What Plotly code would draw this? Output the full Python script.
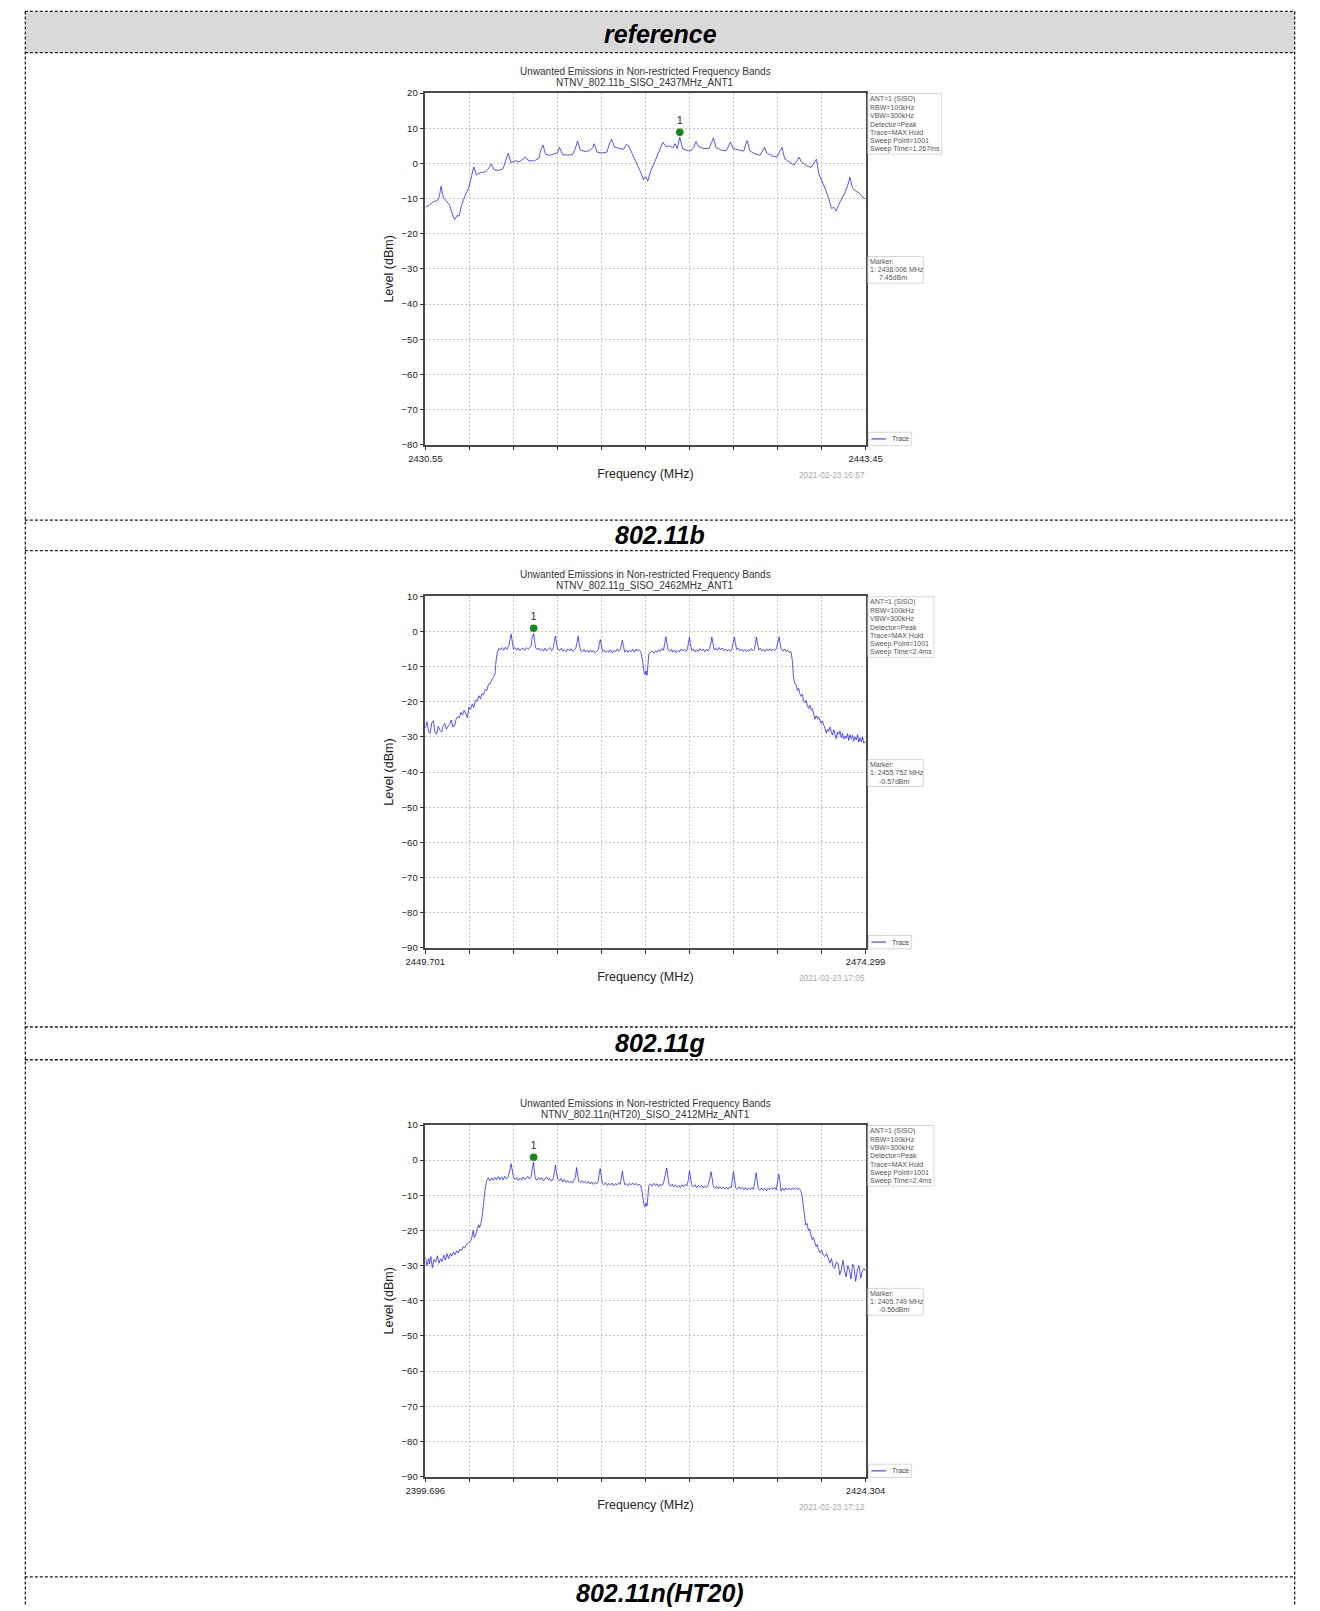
import plotly.graph_objects as go

# ---------------- DATA ----------------
header_text = "reference"
chart_title = "Unwanted Emissions in Non-restricted Frequency Bands"
chart_subtitles = ["NTNV_802.11b_SISO_2437MHz_ANT1",
                   "NTNV_802.11g_SISO_2462MHz_ANT1",
                   "NTNV_802.11n(HT20)_SISO_2412MHz_ANT1"]
captions = ["802.11b", "802.11g", "802.11n(HT20)"]
x_starts = [2430.55, 2449.701, 2399.696]
x_stops = [2443.45, 2474.299, 2424.304]
x_start_labels = ["2430.55", "2449.701", "2399.696"]
x_stop_labels = ["2443.45", "2474.299", "2424.304"]
y_mins = [-80, -90, -90]
y_maxs = [20, 10, 10]
setup_lines = ["ANT=1 (SISO)", "RBW=100kHz", "VBW=300kHz", "Detector=Peak",
               "Trace=MAX Hold", "Sweep Point=1001"]
sweep_times = ["1.267ms", "2.4ms", "2.4ms"]
marker_freqs = [2438.006, 2455.752, 2405.749]
marker_levels = [7.45, -0.57, -0.56]
marker_dot_levels = [8.9, 0.9, 0.8]
timestamps = ["2021-02-23 16:57", "2021-02-23 17:05", "2021-02-23 17:12"]
x_title = "Frequency (MHz)"
y_title = "Level (dBm)"
trace_name = "Trace"

# chart 1: 802.11b
f1 = [2430.55, 2430.67, 2430.78, 2430.90, 2430.96, 2431.01, 2431.08, 2431.16, 2431.26, 2431.36,
      2431.41, 2431.48, 2431.54, 2431.61, 2431.72, 2431.82, 2431.90, 2431.97, 2432.05, 2432.17,
      2432.32, 2432.40, 2432.48, 2432.56, 2432.70, 2432.83, 2432.91, 2432.98, 2433.06, 2433.19,
      2433.29, 2433.42, 2433.49, 2433.57, 2433.74, 2433.88, 2433.94, 2434.00, 2434.07, 2434.20,
      2434.30, 2434.42, 2434.48, 2434.57, 2434.71, 2434.86, 2434.94, 2435.01, 2435.09, 2435.22,
      2435.37, 2435.45, 2435.50, 2435.58, 2435.72, 2435.87, 2435.94, 2436.01, 2436.09, 2436.23,
      2436.36, 2436.44, 2436.51, 2436.61, 2436.74, 2436.86, 2436.94, 2437.00, 2437.07, 2437.14,
      2437.26, 2437.36, 2437.45, 2437.51, 2437.60, 2437.71, 2437.80, 2437.87, 2437.93, 2437.97,
      2438.006, 2438.09, 2438.18, 2438.31, 2438.41, 2438.48, 2438.56, 2438.71, 2438.86, 2438.94,
      2438.99, 2439.07, 2439.22, 2439.37, 2439.44, 2439.49, 2439.57, 2439.72, 2439.88, 2439.94,
      2439.98, 2440.06, 2440.18, 2440.36, 2440.43, 2440.49, 2440.55, 2440.69, 2440.85, 2440.95,
      2441.00, 2441.08, 2441.20, 2441.35, 2441.45, 2441.50, 2441.57, 2441.70, 2441.85, 2441.96,
      2442.01, 2442.08, 2442.18, 2442.26, 2442.37, 2442.45, 2442.52, 2442.59, 2442.70, 2442.82,
      2442.92, 2442.99, 2443.06, 2443.15, 2443.27, 2443.38, 2443.45]
l1 = [-12.5, -11.8, -10.9, -10.6, -9.5, -6.5, -9.8, -10.6, -11.8, -15.0,
      -16.0, -14.8, -15.0, -12.0, -9.0, -7.0, -4.0, -1.0, -3.2, -2.6,
      -2.4, -1.5, -0.1, -1.8, -2.0, -1.5, 1.0, 2.9, 0.2, 0.8,
      0.4, 1.2, 1.8, 0.8, 0.7, 1.5, 4.0, 5.2, 2.6, 2.3,
      2.6, 3.0, 4.6, 2.5, 2.4, 2.5, 4.0, 6.4, 3.8, 3.4,
      3.6, 4.5, 5.6, 3.2, 3.0, 3.2, 5.5, 6.9, 4.6, 4.4,
      4.0, 5.4, 5.0, 2.8, 0.2, -2.5, -4.6, -3.8, -5.0, -2.5,
      0.2, 2.6, 4.5, 6.0, 4.8, 5.0, 4.4, 5.6, 4.2, 6.0,
      7.45, 4.2, 3.8, 3.5, 4.5, 6.2, 4.8, 4.2, 4.3, 6.0,
      7.2, 4.5, 3.8, 3.6, 5.0, 6.1, 4.2, 3.8, 3.5, 5.5,
      6.5, 3.6, 2.8, 2.3, 3.5, 4.6, 3.0, 2.2, 1.8, 3.5,
      4.6, 1.3, 0.4, -0.5, 0.8, 1.8, 0.4, -0.5, -1.2, 0.5,
      1.2, -3.0, -5.0, -7.0, -10.0, -12.8, -12.5, -13.5, -11.0, -8.8,
      -6.5, -3.9, -6.8, -7.8, -8.5, -9.8, -10.0]

# chart 2: 802.11g
f2 = [2449.70, 2449.79, 2449.88, 2449.97, 2450.06, 2450.15, 2450.24, 2450.33, 2450.42, 2450.52,
      2450.61, 2450.70, 2450.79, 2450.88, 2450.97, 2451.06, 2451.15, 2451.24, 2451.33, 2451.42,
      2451.51, 2451.60, 2451.69, 2451.78, 2451.87, 2451.96, 2452.05, 2452.14, 2452.23, 2452.32,
      2452.41, 2452.51, 2452.60, 2452.69, 2452.78, 2452.87, 2452.96, 2453.05, 2453.14, 2453.23,
      2453.32, 2453.41, 2453.50, 2453.59, 2453.64, 2453.72, 2453.81, 2453.90, 2453.99, 2454.08,
      2454.17, 2454.26, 2454.37, 2454.44, 2454.49, 2454.55, 2454.62, 2454.71, 2454.80, 2454.89,
      2454.98, 2455.07, 2455.16, 2455.25, 2455.34, 2455.43, 2455.52, 2455.61, 2455.66, 2455.752,
      2455.80, 2455.86, 2455.95, 2456.03, 2456.12, 2456.21, 2456.31, 2456.39, 2456.48, 2456.57,
      2456.66, 2456.75, 2456.84, 2456.91, 2456.97, 2457.02, 2457.09, 2457.21, 2457.30, 2457.39,
      2457.48, 2457.57, 2457.66, 2457.75, 2457.84, 2457.93, 2458.02, 2458.11, 2458.19, 2458.24,
      2458.29, 2458.37, 2458.47, 2458.56, 2458.65, 2458.74, 2458.83, 2458.92, 2459.01, 2459.10,
      2459.19, 2459.28, 2459.37, 2459.42, 2459.48, 2459.53, 2459.61, 2459.70, 2459.79, 2459.88,
      2459.97, 2460.06, 2460.15, 2460.24, 2460.33, 2460.42, 2460.51, 2460.60, 2460.66, 2460.71,
      2460.77, 2460.84, 2460.93, 2461.02, 2461.11, 2461.20, 2461.29, 2461.38, 2461.47, 2461.56,
      2461.65, 2461.74, 2461.81, 2461.87, 2461.93, 2461.98, 2462.03, 2462.09, 2462.14, 2462.19,
      2462.28, 2462.38, 2462.47, 2462.56, 2462.65, 2462.74, 2462.83, 2462.92, 2463.01, 2463.08,
      2463.14, 2463.19, 2463.27, 2463.36, 2463.45, 2463.54, 2463.63, 2463.72, 2463.81, 2463.90,
      2463.99, 2464.08, 2464.17, 2464.26, 2464.35, 2464.40, 2464.46, 2464.51, 2464.59, 2464.68,
      2464.77, 2464.86, 2464.95, 2465.04, 2465.13, 2465.22, 2465.31, 2465.40, 2465.49, 2465.58,
      2465.66, 2465.71, 2465.76, 2465.84, 2465.93, 2466.02, 2466.11, 2466.20, 2466.29, 2466.38,
      2466.47, 2466.56, 2466.65, 2466.74, 2466.83, 2466.92, 2466.97, 2467.02, 2467.10, 2467.19,
      2467.28, 2467.37, 2467.46, 2467.55, 2467.64, 2467.73, 2467.82, 2467.91, 2468.00, 2468.09,
      2468.15, 2468.20, 2468.26, 2468.33, 2468.42, 2468.51, 2468.60, 2468.69, 2468.78, 2468.87,
      2468.96, 2469.05, 2469.14, 2469.23, 2469.32, 2469.41, 2469.47, 2469.52, 2469.59, 2469.68,
      2469.77, 2469.86, 2469.95, 2470.04, 2470.13, 2470.20, 2470.27, 2470.34, 2470.42, 2470.49,
      2470.56, 2470.63, 2470.70, 2470.77, 2470.84, 2470.91, 2470.98, 2471.05, 2471.12, 2471.19,
      2471.26, 2471.33, 2471.40, 2471.47, 2471.54, 2471.61, 2471.68, 2471.75, 2471.82, 2471.89,
      2471.96, 2472.03, 2472.10, 2472.17, 2472.24, 2472.31, 2472.38, 2472.45, 2472.52, 2472.59,
      2472.66, 2472.73, 2472.80, 2472.87, 2472.94, 2473.01, 2473.08, 2473.15, 2473.22, 2473.29,
      2473.36, 2473.43, 2473.50, 2473.57, 2473.64, 2473.71, 2473.78, 2473.85, 2473.92, 2473.99,
      2474.06, 2474.13, 2474.20, 2474.30]
l2 = [-27.5, -25.7, -28.5, -29.0, -26.0, -25.4, -28.8, -29.2, -27.0, -28.2,
      -28.6, -26.8, -26.2, -27.8, -27.0, -26.4, -25.2, -27.2, -26.9, -25.0,
      -24.2, -24.6, -23.0, -23.8, -22.4, -23.6, -24.5, -21.5, -22.2, -20.6,
      -21.6, -19.6, -19.8, -18.3, -19.2, -17.7, -18.0, -16.4, -16.8, -15.0,
      -14.9, -13.8, -13.2, -12.3, -9.0, -6.0, -4.8, -5.2, -4.6, -5.4,
      -4.5, -5.1, -4.0, -1.5, -0.8, -2.5, -5.0, -4.6, -5.3, -4.7,
      -5.5, -5.0, -4.8, -5.4, -4.6, -5.1, -4.5, -4.2, -2.0, -0.57,
      -2.5, -4.6, -5.2, -4.7, -5.4, -5.0, -5.6, -4.8, -5.5, -5.1,
      -4.6, -5.5, -4.9, -2.8, -1.3, -3.0, -5.0, -5.4, -4.8, -5.6,
      -5.2, -5.8, -5.0, -5.5, -4.9, -5.7, -5.2, -4.8, -2.9, -1.4,
      -3.2, -5.4, -5.8, -5.1, -5.9, -5.4, -6.0, -5.3, -5.9, -5.5,
      -6.1, -5.6, -5.2, -3.5, -2.3, -3.8, -5.8, -5.3, -6.0, -5.5,
      -5.9, -5.2, -6.1, -5.4, -5.8, -5.0, -5.7, -5.2, -3.8, -2.5,
      -4.0, -5.9, -5.3, -6.0, -5.4, -5.8, -5.1, -5.9, -5.0, -5.6,
      -5.2, -5.8, -7.5, -10.5, -11.8, -12.3, -11.2, -12.5, -9.0, -6.4,
      -6.0, -5.6, -6.2, -5.5, -5.9, -5.2, -5.7, -4.9, -5.4, -3.5,
      -1.5, -3.2, -5.3, -5.7, -5.1, -5.9, -5.3, -6.0, -5.4, -5.8,
      -5.0, -5.6, -5.1, -5.7, -5.0, -3.3, -1.7, -3.5, -5.5, -5.0,
      -5.8, -5.2, -5.7, -4.9, -5.5, -5.0, -5.8, -5.1, -5.6, -4.9,
      -3.4, -1.6, -3.4, -5.3, -4.8, -5.4, -4.6, -5.2, -4.7, -5.5,
      -5.0, -5.6, -5.1, -5.7, -5.0, -3.2, -1.6, -3.3, -5.2, -4.8,
      -5.5, -5.0, -5.7, -5.1, -5.8, -5.2, -5.6, -4.9, -5.5, -5.0,
      -3.4, -1.6, -3.5, -5.3, -4.8, -5.6, -5.1, -5.7, -5.0, -5.5,
      -4.9, -5.6, -5.0, -5.4, -4.8, -3.0, -1.6, -3.4, -5.2, -5.6,
      -5.0, -5.8, -5.3, -6.0, -5.8, -8.0, -13.0, -14.8, -15.2, -16.8,
      -16.2, -17.8, -18.5, -17.9, -19.9, -20.3, -19.6, -21.2, -21.9, -21.0,
      -22.4, -22.0, -23.5, -25.0, -24.0, -24.8, -24.3, -25.6, -26.2, -25.5,
      -27.0, -27.6, -28.9, -27.8, -28.4, -27.2, -28.6, -29.5, -28.0, -29.6,
      -30.5, -28.6, -29.3, -28.3, -30.2, -29.0, -30.6, -29.8, -30.4, -29.1,
      -31.0, -29.4, -30.5, -29.6, -31.2, -30.0, -30.8, -29.4, -31.5, -30.2,
      -31.4, -30.0, -31.8, -31.2]

# chart 3: 802.11n(HT20)
f3 = [2399.70, 2399.79, 2399.88, 2399.93, 2400.00, 2400.09, 2400.18, 2400.27, 2400.37, 2400.46,
      2400.55, 2400.64, 2400.73, 2400.82, 2400.91, 2401.00, 2401.09, 2401.18, 2401.27, 2401.36,
      2401.45, 2401.54, 2401.63, 2401.72, 2401.81, 2401.90, 2401.99, 2402.08, 2402.17, 2402.27,
      2402.32, 2402.37, 2402.43, 2402.50, 2402.59, 2402.68, 2402.73, 2402.83, 2402.90, 2402.97,
      2403.04, 2403.13, 2403.22, 2403.31, 2403.41, 2403.50, 2403.59, 2403.68, 2403.77, 2403.86,
      2403.95, 2404.04, 2404.13, 2404.22, 2404.31, 2404.38, 2404.44, 2404.49, 2404.55, 2404.62,
      2404.71, 2404.80, 2404.89, 2404.98, 2405.07, 2405.16, 2405.25, 2405.34, 2405.43, 2405.52,
      2405.61, 2405.67, 2405.749, 2405.78, 2405.85, 2405.94, 2406.03, 2406.12, 2406.21, 2406.30,
      2406.39, 2406.48, 2406.57, 2406.66, 2406.75, 2406.84, 2406.92, 2406.97, 2407.02, 2407.10,
      2407.19, 2407.28, 2407.37, 2407.46, 2407.55, 2407.64, 2407.73, 2407.82, 2407.91, 2408.00,
      2408.09, 2408.15, 2408.20, 2408.27, 2408.36, 2408.45, 2408.54, 2408.64, 2408.73, 2408.82,
      2408.91, 2409.00, 2409.09, 2409.18, 2409.27, 2409.36, 2409.41, 2409.47, 2409.52, 2409.59,
      2409.68, 2409.77, 2409.87, 2409.96, 2410.05, 2410.14, 2410.23, 2410.32, 2410.41, 2410.50,
      2410.59, 2410.66, 2410.71, 2410.77, 2410.84, 2410.93, 2411.02, 2411.11, 2411.20, 2411.29,
      2411.38, 2411.47, 2411.56, 2411.65, 2411.74, 2411.81, 2411.87, 2411.92, 2411.98, 2412.03,
      2412.09, 2412.14, 2412.19, 2412.28, 2412.38, 2412.47, 2412.56, 2412.65, 2412.74, 2412.83,
      2412.92, 2413.01, 2413.08, 2413.14, 2413.19, 2413.25, 2413.32, 2413.41, 2413.50, 2413.59,
      2413.68, 2413.77, 2413.86, 2413.95, 2414.04, 2414.13, 2414.22, 2414.31, 2414.40, 2414.46,
      2414.51, 2414.59, 2414.68, 2414.77, 2414.86, 2414.95, 2415.04, 2415.13, 2415.22, 2415.31,
      2415.40, 2415.49, 2415.56, 2415.62, 2415.67, 2415.72, 2415.80, 2415.89, 2415.98, 2416.07,
      2416.16, 2416.25, 2416.34, 2416.43, 2416.52, 2416.61, 2416.70, 2416.79, 2416.86, 2416.92,
      2416.97, 2417.04, 2417.13, 2417.22, 2417.31, 2417.40, 2417.50, 2417.59, 2417.68, 2417.77,
      2417.86, 2417.95, 2418.04, 2418.13, 2418.19, 2418.24, 2418.31, 2418.40, 2418.48, 2418.58,
      2418.67, 2418.77, 2418.86, 2418.94, 2419.03, 2419.13, 2419.22, 2419.31, 2419.40, 2419.45,
      2419.51, 2419.58, 2419.67, 2419.76, 2419.85, 2419.94, 2420.03, 2420.12, 2420.21, 2420.30,
      2420.39, 2420.49, 2420.58, 2420.67, 2420.75, 2420.82, 2420.89, 2420.96, 2421.03, 2421.11,
      2421.18, 2421.25, 2421.32, 2421.39, 2421.46, 2421.53, 2421.60, 2421.67, 2421.76, 2421.85,
      2421.94, 2422.03, 2422.13, 2422.22, 2422.31, 2422.40, 2422.49, 2422.58, 2422.67, 2422.77,
      2422.86, 2422.95, 2423.04, 2423.13, 2423.22, 2423.31, 2423.40, 2423.49, 2423.58, 2423.66,
      2423.75, 2423.85, 2423.94, 2424.03, 2424.12, 2424.21, 2424.30]
l3 = [-27.6, -30.0, -28.0, -29.5, -27.4, -30.6, -28.2, -29.0, -27.2, -29.3,
      -28.1, -28.8, -27.0, -28.4, -26.6, -28.0, -26.5, -27.3, -26.1, -26.9,
      -25.8, -26.4, -25.3, -25.8, -24.6, -25.0, -24.0, -23.8, -23.4, -22.6,
      -20.5, -20.0, -22.0, -21.5, -19.6, -18.4, -19.2, -17.5, -14.8, -11.5,
      -8.0, -5.8, -5.0, -5.9, -5.1, -5.7, -4.9, -5.6, -4.7, -5.5,
      -4.8, -5.6, -4.6, -5.4, -4.9, -3.8, -1.8, -1.0, -2.8, -4.8,
      -5.5, -4.9, -5.8, -5.1, -5.6, -4.8, -5.5, -5.0, -4.6, -5.4,
      -4.7, -2.6, -0.56, -2.8, -5.3, -5.7, -4.9, -5.6, -5.0, -5.8,
      -5.2, -4.8, -5.6, -5.2, -6.0, -5.3, -3.2, -1.4, -3.4, -5.4,
      -5.9, -5.2, -6.2, -5.5, -6.3, -5.8, -6.4, -5.9, -6.5, -5.8,
      -4.8, -2.1, -3.8, -6.0, -6.4, -5.8, -6.5, -6.0, -6.6, -6.1,
      -6.8, -6.2, -6.9, -6.3, -6.7, -6.0, -4.0, -2.4, -4.2, -6.6,
      -7.0, -6.4, -7.2, -6.6, -7.1, -6.5, -7.3, -6.7, -7.0, -6.4,
      -6.9, -5.0, -3.1, -5.2, -7.0, -6.7, -7.3, -6.6, -7.0, -6.5,
      -7.1, -6.6, -7.2, -6.8, -7.3, -9.0, -11.5, -12.8, -13.3, -12.2,
      -13.0, -10.0, -7.2, -6.8, -7.4, -6.6, -7.2, -6.7, -7.5, -6.8,
      -7.3, -6.5, -5.0, -3.0, -2.2, -4.5, -7.0, -7.4, -6.8, -7.6,
      -7.0, -7.7, -7.2, -7.8, -7.0, -7.5, -6.9, -7.4, -5.6, -3.0,
      -4.8, -7.2, -7.6, -7.0, -7.8, -7.2, -7.7, -7.1, -7.9, -7.3,
      -7.8, -7.2, -6.0, -4.6, -3.3, -5.0, -7.6, -8.0, -7.4, -8.2,
      -7.5, -8.1, -7.6, -8.2, -7.7, -8.3, -7.6, -7.9, -5.8, -3.3,
      -5.0, -7.9, -8.3, -7.6, -8.2, -7.7, -8.4, -7.8, -8.5, -7.9,
      -8.4, -7.8, -8.3, -6.0, -3.6, -5.5, -8.1, -8.5, -7.9, -8.6,
      -8.0, -8.7, -7.9, -8.4, -7.8, -8.3, -7.7, -8.5, -6.2, -4.0,
      -5.8, -8.8, -8.0, -8.6, -7.9, -8.4, -8.0, -8.5, -7.9, -8.3,
      -7.8, -8.4, -8.0, -8.6, -10.0, -13.5, -17.0, -18.5, -18.0, -20.0,
      -19.6, -21.5, -22.6, -22.0, -23.8, -24.5, -24.0, -25.5, -26.3, -25.6,
      -27.0, -27.4, -26.6, -28.2, -29.3, -28.0, -30.4, -30.8, -29.0, -29.4,
      -32.6, -31.0, -28.5, -31.5, -33.2, -30.0, -31.2, -33.8, -29.6, -30.5,
      -34.5, -31.0, -30.0, -33.6, -31.5, -30.8, -31.6]

freqs = [f1, f2, f3]
levels = [l1, l2, l3]

# ---------------- LAYOUT (pixel geometry) ----------------
W, H = 1320, 1611
FONT = "Liberation Sans, Arial, sans-serif"


def px(x):
    return x / W


def py(y):
    return 1 - y / H


PLOT_L, PLOT_R = 418, 872
PLOT_H = 354
PLOT_TOPS = [87.7, 594.3, 1126.7]
CAPTION_Y = [533, 1044.5, 1598]
ROW_LINES = [5.5, 47, 517.7, 548.3, 1028, 1061, 1581.7]
BOX_X = 874.5
INFO_W = [76, 68, 68]
TRACE_COLOR = "rgba(20,20,255,0.72)"
BOX_LINE = dict(color="#d6d6d6", width=1)
GRID = dict(showgrid=True, gridcolor="#c4c4c4", griddash="2px,2px", gridwidth=0.8)
AX_LINE = dict(showline=True, mirror=True, linecolor="#4a4a4a", linewidth=1.5, zeroline=False)

fig = go.Figure()
layout = dict(
    width=W, height=H, margin=dict(l=0, r=0, t=0, b=0),
    paper_bgcolor="white", plot_bgcolor="white",
    font=dict(family=FONT, color="#222"),
    showlegend=False,
)
annotations = []
shapes = []


def text_ann(text, x, y, size, color, xanchor="left", yanchor="middle"):
    return dict(text=text, x=px(x), y=py(y), xref="paper", yref="paper",
                xanchor=xanchor, yanchor=yanchor, showarrow=False, borderpad=0,
                font=dict(size=size, color=color, family=FONT))


def box(x0, x1, y0, y1):
    return dict(type="rect", xref="paper", yref="paper", x0=px(x0), x1=px(x1),
                y0=py(y1), y1=py(y0), fillcolor="white", line=BOX_LINE, layer="above")


for i in range(3):
    n = "" if i == 0 else str(i + 1)
    top = PLOT_TOPS[i]
    bottom = top + PLOT_H
    xs, xe = x_starts[i], x_stops[i]
    ticks = [xs + k * (xe - xs) / 10 for k in range(11)]
    ticktext = [x_start_labels[i]] + [""] * 9 + [x_stop_labels[i]]

    fig.add_trace(go.Scatter(
        x=freqs[i], y=levels[i], mode="lines", name=trace_name,
        line=dict(color=TRACE_COLOR, width=1),
        xaxis="x" + n, yaxis="y" + n, hoverinfo="skip"))
    fig.add_trace(go.Scatter(
        x=[marker_freqs[i]], y=[marker_dot_levels[i]], mode="markers+text",
        text=["1"], textposition="top center",
        textfont=dict(size=11, color="#333", family=FONT),
        marker=dict(color="#138a13", size=7.5),
        xaxis="x" + n, yaxis="y" + n, cliponaxis=False, hoverinfo="skip"))

    layout["xaxis" + n] = dict(
        domain=[px(PLOT_L), px(PLOT_R)], range=[xs, xe], anchor="y" + n,
        tickmode="array", tickvals=ticks, ticktext=ticktext,
        ticks="outside", ticklen=4, tickwidth=1, tickcolor="#333",
        tickfont=dict(size=9.5, color="#222", family=FONT),
        title=dict(text=x_title, font=dict(size=12.5, color="#222", family=FONT), standoff=6),
        fixedrange=True, **GRID, **AX_LINE)
    layout["yaxis" + n] = dict(
        domain=[py(bottom), py(top)], range=[y_mins[i], y_maxs[i]], anchor="x" + n,
        tick0=0, dtick=10, ticks="outside", ticklen=4, tickwidth=1, tickcolor="#333",
        tickfont=dict(size=9.5, color="#222", family=FONT),
        title=dict(text=y_title, font=dict(size=12.5, color="#222", family=FONT), standoff=5),
        fixedrange=True, **GRID, **AX_LINE)

    cx = (PLOT_L + PLOT_R) / 2
    annotations.append(text_ann(chart_title, cx, top - 21.5, 10, "#333", "center"))
    annotations.append(text_ann(chart_subtitles[i], cx, top - 10.8, 10, "#333", "center"))

    # instrument settings box
    info = setup_lines + ["Sweep Time=" + sweep_times[i]]
    shapes.append(box(BOX_X, BOX_X + INFO_W[i], top + 0.5, top + 61.5))
    for k, line in enumerate(info):
        annotations.append(text_ann(line, BOX_X + 1.5, top + 5.8 + k * 8.45, 7.0, "#555"))

    # marker readout box
    mtop = top + 164.5
    shapes.append(box(BOX_X, BOX_X + 57, mtop, mtop + 27))
    annotations.append(text_ann("Marker:", BOX_X + 1.5, mtop + 5, 7.0, "#555"))
    annotations.append(text_ann("1: %.3f MHz" % marker_freqs[i], BOX_X + 1.5, mtop + 13.3, 7.0, "#555"))
    annotations.append(text_ann("%.2fdBm" % marker_levels[i], BOX_X + 10, mtop + 21.6, 7.0, "#555"))

    # legend box
    shapes.append(box(BOX_X + 0.5, BOX_X + 45, bottom - 12.5, bottom + 1))
    shapes.append(dict(type="line", xref="paper", yref="paper",
                       x0=px(BOX_X + 3.5), x1=px(BOX_X + 18.5),
                       y0=py(bottom - 5.8), y1=py(bottom - 5.8),
                       line=dict(color=TRACE_COLOR, width=1.3), layer="above"))
    annotations.append(text_ann(trace_name, BOX_X + 24, bottom - 5.8, 6.8, "#444"))

    # timestamp and caption
    annotations.append(text_ann(timestamps[i], PLOT_R, top + 384.5, 8.3, "#aaa", "right"))
    annotations.append(text_ann("<b><i>%s</i></b>" % captions[i], W / 2, CAPTION_Y[i], 25, "#000", "center"))

# header band
shapes.append(dict(type="rect", xref="paper", yref="paper", x0=px(6), x1=px(1314),
                   y0=py(47), y1=py(6), fillcolor="#d9d9d9", line=dict(width=0), layer="below"))
annotations.append(text_ann("<b><i>%s</i></b>" % header_text, W / 2, 28, 25, "#000", "center"))
# table borders
BORDER = dict(color="#1a1a1a", width=1.3, dash="3px,2px")
for yl in ROW_LINES:
    shapes.append(dict(type="line", xref="paper", yref="paper", x0=px(5), x1=px(1315),
                       y0=py(yl), y1=py(yl), line=BORDER))
for xl in (5.5, 1314.5):
    shapes.append(dict(type="line", xref="paper", yref="paper", x0=px(xl), x1=px(xl),
                       y0=py(5.5), y1=0, line=BORDER))

layout["annotations"] = annotations
layout["shapes"] = shapes
fig.update_layout(**layout)

fig.write_html("out.html", config={"displayModeBar": False},
               post_script="document.body.style.margin='0';"
                           "document.documentElement.style.overflow='hidden';")
